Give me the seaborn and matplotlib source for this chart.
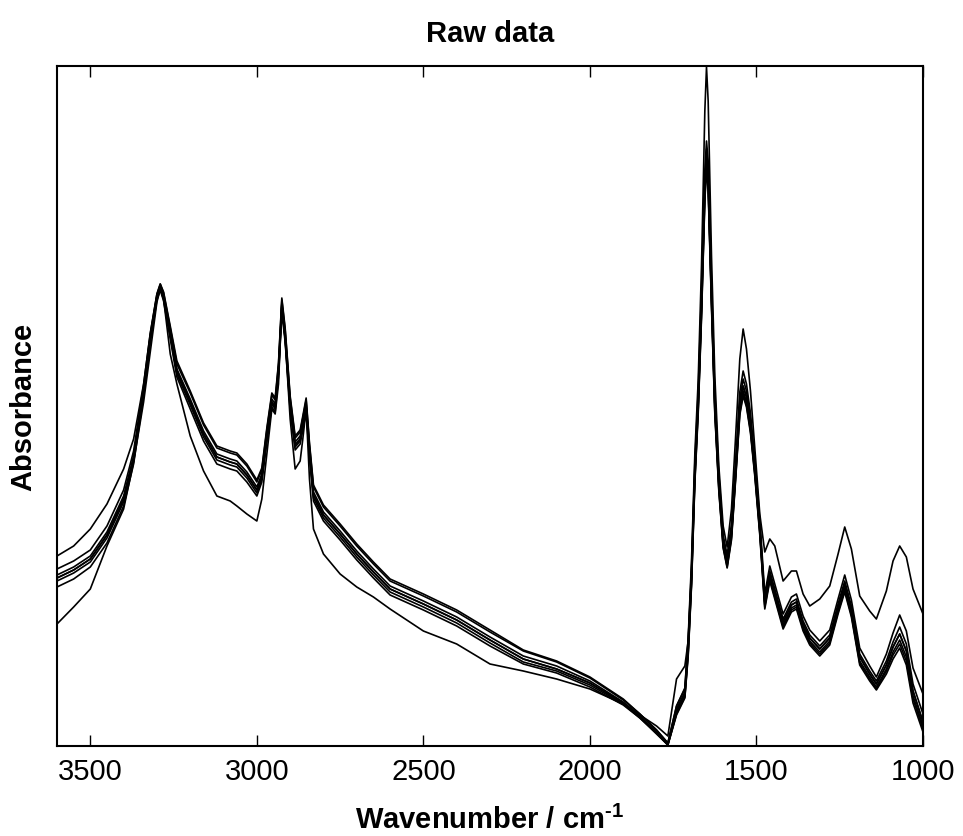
import numpy as np
import pandas as pd
import matplotlib
matplotlib.use("Agg")
import matplotlib.pyplot as plt
import seaborn as sns

wavenumber = [3600, 3550, 3500, 3450, 3400, 3370, 3340, 3320, 3300, 3290,
              3280, 3260, 3240, 3200, 3160, 3120, 3080, 3060, 3030, 3000,
              2985, 2970, 2955, 2945, 2935, 2925, 2915, 2900, 2885, 2870,
              2862, 2852, 2842, 2830, 2800, 2750, 2700, 2650, 2600, 2500,
              2400, 2300, 2200, 2100, 2000, 1900, 1850, 1800, 1766, 1740,
              1715, 1705, 1695, 1685, 1675, 1665, 1655, 1650, 1645, 1635,
              1625, 1613, 1600, 1588, 1575, 1563, 1550, 1540, 1530, 1518,
              1505, 1490, 1475, 1460, 1445, 1420, 1395, 1380, 1360, 1340,
              1310, 1280, 1255, 1235, 1215, 1190, 1160, 1140, 1110, 1090,
              1070, 1050, 1030, 1000]

# Absorbance (mAU, arbitrary offset) of each raw spectrum
spectrum_01 = [190, 200, 217, 242, 277, 307, 362, 412, 452, 462,
               454, 420, 385, 355, 323, 300, 295, 293, 282, 266,
               278, 318, 353, 348, 383, 448, 418, 350, 310, 316,
               330, 348, 303, 261, 241, 222, 202, 184, 167, 152,
               136, 116, 96, 85, 69, 47, 32, 16, 3, 40,
               58, 108, 185, 292, 365, 480, 635, 679, 645, 490,
               370, 280, 220, 199, 237, 307, 387, 417, 397, 355,
               298, 232, 194, 207, 200, 165, 175, 175, 152, 140,
               147, 160, 192, 219, 197, 150, 135, 127, 155, 185,
               200, 189, 157, 132]
spectrum_02 = [177, 185, 196, 220, 256, 295, 361, 413, 452, 462,
               453, 418, 382, 353, 321, 298, 293, 291, 280, 264,
               276, 316, 351, 346, 381, 446, 416, 348, 308, 314,
               328, 346, 301, 259, 239, 220, 200, 182, 165, 150,
               134, 114, 95, 84, 68, 46, 32, 16, 3, 40,
               57, 105, 178, 283, 354, 455, 575, 605, 585, 464,
               353, 272, 211, 191, 222, 283, 354, 375, 362, 333,
               287, 227, 152, 180, 162, 132, 149, 152, 130, 116,
               105, 116, 147, 171, 146, 98, 80, 69, 92, 113,
               131, 115, 78, 52]
spectrum_03 = [171, 179, 190, 214, 250, 290, 357, 410, 450, 460,
               450, 414, 377, 347, 315, 292, 287, 285, 274, 259,
               272, 312, 347, 342, 377, 442, 412, 344, 304, 310,
               324, 342, 297, 254, 234, 215, 195, 177, 160, 145,
               129, 109, 90, 80, 65, 44, 30, 14, 2, 37,
               54, 100, 172, 277, 347, 447, 567, 597, 577, 457,
               347, 267, 207, 187, 217, 277, 347, 367, 355, 327,
               282, 222, 147, 175, 157, 127, 144, 147, 125, 111,
               100, 111, 142, 165, 140, 92, 75, 65, 85, 104,
               119, 102, 62, 32]
spectrum_04 = [168, 176, 187, 211, 247, 287, 355, 408, 449, 459,
               449, 412, 375, 344, 312, 289, 284, 282, 271, 256,
               269, 309, 344, 339, 374, 440, 409, 341, 301, 307,
               321, 339, 294, 251, 231, 212, 192, 174, 157, 142,
               126, 106, 87, 77, 63, 43, 29, 13, 2, 35,
               52, 97, 168, 273, 342, 441, 560, 589, 569, 451,
               342, 263, 204, 184, 213, 272, 341, 360, 349, 321,
               277, 218, 144, 172, 154, 124, 141, 144, 122, 108,
               97, 108, 139, 162, 137, 89, 72, 62, 81, 99,
               112, 95, 55, 24]
spectrum_05 = [165, 173, 184, 208, 244, 285, 353, 406, 447, 457,
               447, 410, 372, 341, 309, 286, 281, 279, 268, 253,
               267, 307, 342, 337, 372, 437, 407, 339, 299, 305,
               319, 337, 292, 248, 228, 209, 189, 171, 154, 139,
               123, 103, 84, 75, 61, 42, 28, 13, 1, 33,
               50, 94, 164, 268, 337, 435, 552, 582, 562, 445,
               337, 259, 201, 181, 210, 268, 336, 355, 344, 317,
               274, 215, 141, 169, 151, 121, 138, 141, 119, 105,
               94, 105, 136, 158, 133, 85, 69, 59, 77, 94,
               106, 89, 50, 20]
spectrum_06 = [159, 167, 179, 203, 240, 282, 350, 403, 446, 456,
               445, 407, 369, 337, 305, 282, 277, 275, 264, 250,
               264, 304, 339, 334, 369, 434, 404, 336, 296, 302,
               316, 334, 289, 245, 225, 206, 186, 168, 151, 136,
               120, 100, 82, 73, 59, 41, 28, 12, 1, 31,
               48, 90, 160, 263, 332, 428, 545, 577, 556, 439,
               332, 255, 198, 178, 206, 264, 331, 350, 339, 313,
               270, 211, 137, 165, 147, 117, 134, 137, 115, 101,
               90, 101, 132, 154, 129, 81, 65, 56, 72, 87,
               98, 81, 43, 14]
spectrum_07 = [168, 176, 187, 211, 247, 287, 355, 408, 449, 459,
               449, 412, 375, 344, 312, 289, 284, 282, 271, 256,
               269, 309, 344, 339, 374, 440, 409, 341, 301, 307,
               321, 339, 294, 251, 231, 212, 192, 174, 157, 142,
               126, 106, 87, 77, 63, 43, 31, 20, 10, 67,
               80, 105, 172, 273, 342, 441, 560, 589, 569, 451,
               342, 263, 204, 184, 213, 272, 341, 360, 349, 321,
               277, 218, 144, 172, 154, 124, 141, 144, 122, 108,
               97, 108, 139, 162, 137, 89, 72, 62, 81, 99,
               112, 95, 55, 24]
spectrum_08 = [122, 139, 157, 200, 237, 284, 344, 394, 444, 457,
               447, 392, 362, 310, 275, 250, 245, 240, 232, 225,
               247, 292, 337, 332, 362, 442, 407, 327, 277, 285,
               307, 337, 267, 217, 192, 172, 159, 149, 137, 115,
               102, 82, 75, 67, 57, 42, 29, 13, 1, 32,
               49, 92, 162, 265, 335, 431, 548, 580, 559, 442,
               334, 257, 199, 179, 208, 266, 333, 352, 341, 315,
               272, 213, 139, 167, 149, 119, 136, 139, 117, 103,
               92, 103, 134, 156, 131, 83, 67, 57, 75, 91,
               102, 85, 47, 17]

spectra = {
    "S01": spectrum_01, "S02": spectrum_02, "S03": spectrum_03,
    "S04": spectrum_04, "S05": spectrum_05, "S06": spectrum_06,
    "S07": spectrum_07, "S08": spectrum_08,
}

frames = []
for name, vals in spectra.items():
    frames.append(pd.DataFrame({"wavenumber": wavenumber,
                                "absorbance": vals,
                                "sample": name}))
df = pd.concat(frames, ignore_index=True)

sns.set_theme(style="white")
plt.rcParams["font.family"] = ["Liberation Sans", "DejaVu Sans"]
plt.rcParams["mathtext.fontset"] = "custom"
plt.rcParams["mathtext.rm"] = "Liberation Sans:bold"
plt.rcParams["mathtext.bf"] = "Liberation Sans:bold"
plt.rcParams["text.color"] = "black"
plt.rcParams["axes.labelcolor"] = "black"
plt.rcParams["xtick.color"] = "black"
plt.rcParams["ytick.color"] = "black"

fig = plt.figure(figsize=(9.63, 8.37), dpi=100)
ax = fig.add_axes([57 / 963, 1 - 747 / 837, 866 / 963, 680 / 837])

sns.lineplot(data=df, x="wavenumber", y="absorbance", hue="sample",
             palette=["black"] * len(spectra), estimator=None, sort=False,
             linewidth=1.2, legend=False, ax=ax)

ax.set_xlim(3600, 1000)
ax.set_ylim(0, 680)
ax.set_yticks([])
ax.set_xticks([3500, 3000, 2500, 2000, 1500, 1000])
ax.tick_params(axis="x", direction="in", length=8, width=1, top=True,
               bottom=True, labelsize=21, pad=8, colors="black")
for s in ax.spines.values():
    s.set_color("black")
    s.set_linewidth(1.5)

ax.set_title("Raw data", fontsize=21, fontweight="bold", pad=18,
             color="black")
ax.set_xlabel(r"Wavenumber / cm$^{\text{-}1}$", fontsize=21,
              fontweight="bold", labelpad=14, color="black")
ax.set_ylabel("Absorbance", fontsize=21, fontweight="bold", labelpad=14,
              color="black")

fig.savefig("out.png", dpi=100, facecolor="white")
